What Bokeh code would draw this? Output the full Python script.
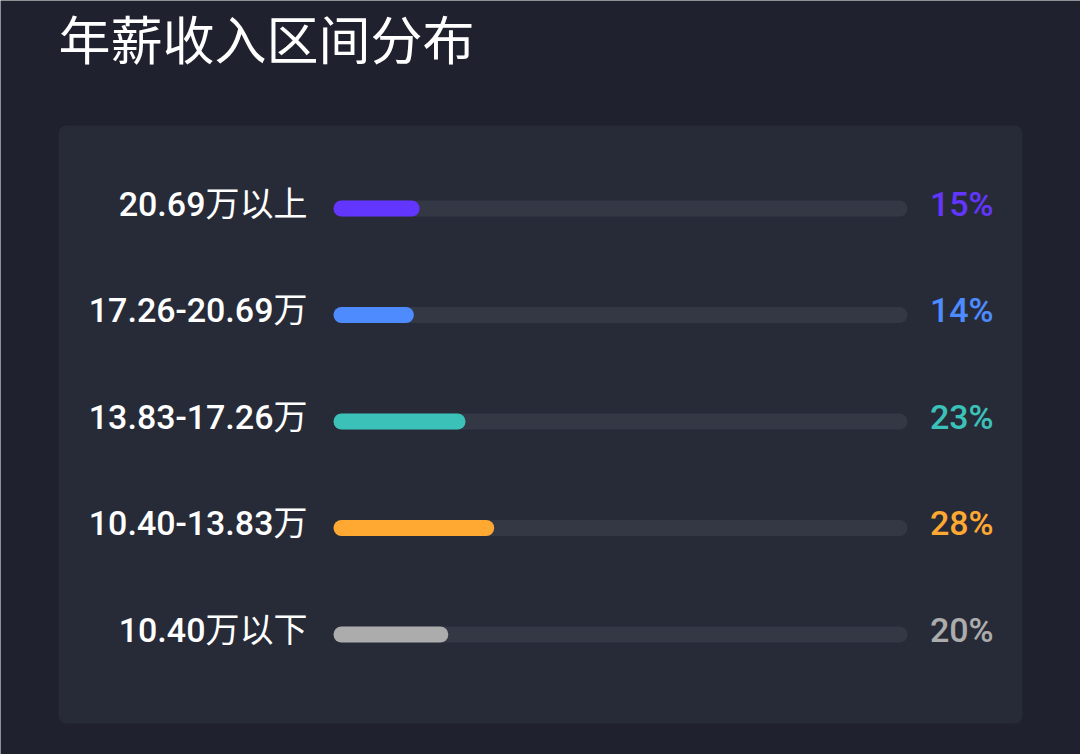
from bokeh.plotting import figure
from bokeh.models import Range1d
from bokeh.core.properties import value
from bokeh.embed import file_html
from bokeh.resources import INLINE

title_text = "年薪收入区间分布"
categories = ["20.69万以上", "17.26-20.69万", "13.83-17.26万", "10.40-13.83万", "10.40万以下"]
percents = [15, 14, 23, 28, 20]
colors = ["#6236ff", "#4d8bff", "#3cc1b8", "#ffa832", "#acacac"]

W, H = 1080, 754
# layout in pixels
TRACK_L, TRACK_R = 333, 907
ROW0, ROW_STEP = 208, 106.5
XSCALE = (TRACK_R - TRACK_L) / 100.0

x_start = -TRACK_L / XSCALE
x_end = (W - TRACK_L) / XSCALE
y_start = (H - ROW0) / ROW_STEP
y_end = -ROW0 / ROW_STEP


def px_x(px):
    return x_start + px / XSCALE


def px_y(py):
    return y_end + py / ROW_STEP


p = figure(width=W, height=H, output_backend="svg", toolbar_location=None,
           x_range=Range1d(x_start, x_end), y_range=Range1d(y_start, y_end),
           min_border=0, background_fill_color="#1f222e", border_fill_color="#1f222e")
p.axis.visible = False
p.grid.visible = False
p.outline_line_color = None

# panel
p.quad(left=[px_x(58)], right=[px_x(1022)], top=[px_y(125)], bottom=[px_y(723)],
       fill_color="#272b38", line_color=None, border_radius=8)

rows = list(range(len(categories)))
bar_h = 16 / ROW_STEP

# tracks
p.hbar(y=rows, left=0, right=100, height=bar_h, fill_color="#343744",
       line_color=None, border_radius=8)
# bars
p.hbar(y=rows, left=0, right=percents, height=bar_h, fill_color=colors,
       line_color=None, border_radius=8)

font = value("'Roboto Medium', Roboto, 'Noto Sans CJK SC'")
p.text(x=[px_x(307)] * len(rows), y=rows, text=categories, text_align="right",
       text_baseline="middle", text_color="#ffffff", text_font=font,
       text_font_size="34px", y_offset=-5)

p.text(x=[px_x(993)] * len(rows), y=rows, text=[f"{v}%" for v in percents],
       text_align="right", text_baseline="middle", text_color=colors,
       text_font=font, text_font_size="34px", y_offset=-5)

p.text(x=[px_x(58)], y=[px_y(37)], text=[title_text], text_align="left",
       text_baseline="middle", text_color="#ffffff",
       text_font=value("'Noto Sans CJK SC'"), text_font_size="52px")

open("out.html", "w").write(file_html(p, INLINE))
